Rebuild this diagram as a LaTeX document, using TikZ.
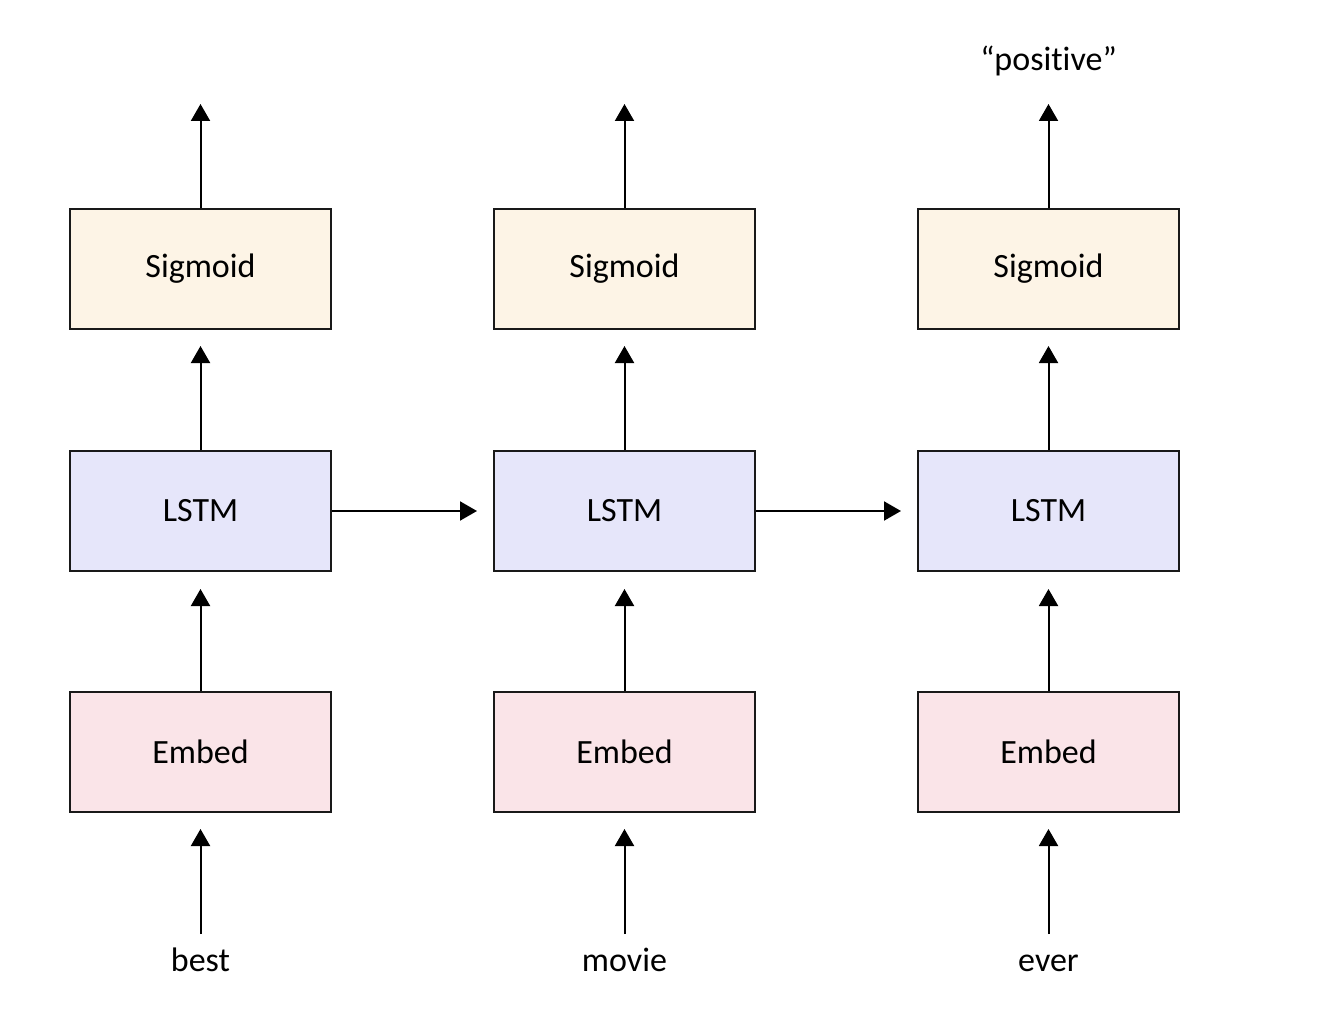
\documentclass[tikz,border=0pt]{standalone}
\usepackage{fontspec}
\setmainfont{Carlito}[Ligatures={NoCommon}]
\usetikzlibrary{arrows.meta}
\definecolor{sigfill}{HTML}{FDF4E6}
\definecolor{lstmfill}{HTML}{E6E6FA}
\definecolor{embfill}{HTML}{FAE4E8}
\tikzset{
  blk/.style={draw=black!90, line width=2pt, minimum width=261pt, minimum height=120pt, inner sep=0pt, font=\fontsize{34}{40}\selectfont},
  sigbox/.style={blk, fill=sigfill},
  lstmbox/.style={blk, fill=lstmfill},
  embbox/.style={blk, fill=embfill},
  word/.style={anchor=base, inner sep=0pt, font=\fontsize{34}{40}\selectfont},
  arr/.style={line width=2pt, -{Triangle[width=19pt,length=17pt]}},
}
\begin{document}
\begin{tikzpicture}[x=1pt,y=-1pt]
\useasboundingbox (0,0) rectangle (1320,1024);
\foreach \i/\x/\w in {1/200.5/best,2/624.5/movie,3/1048.5/ever}{
  \node[sigbox]  (sig\i)  at (\x,269) {Sigmoid};
  \node[lstmbox] (lstm\i) at (\x,511) {LSTM};
  \node[embbox]  (emb\i)  at (\x,752) {Embed};
  \node[word]    (w\i)    at (\x,971) {\w};
  \coordinate (in\i) at (\x,934);
  \coordinate (out\i) at (\x,104);
  \draw[arr, shorten >=16pt] (in\i) -- (emb\i.south);
  \draw[arr, shorten >=17pt] (emb\i.north) -- (lstm\i.south);
  \draw[arr, shorten >=16pt] (lstm\i.north) -- (sig\i.south);
  \draw[arr] (sig\i.north) -- (out\i);
}
\draw[arr, shorten >=16pt] (lstm1.east) -- (lstm2.west);
\draw[arr, shorten >=16pt] (lstm2.east) -- (lstm3.west);
\node[word] (pos) at (1048.5,71) {“positive”};
\end{tikzpicture}
\end{document}
